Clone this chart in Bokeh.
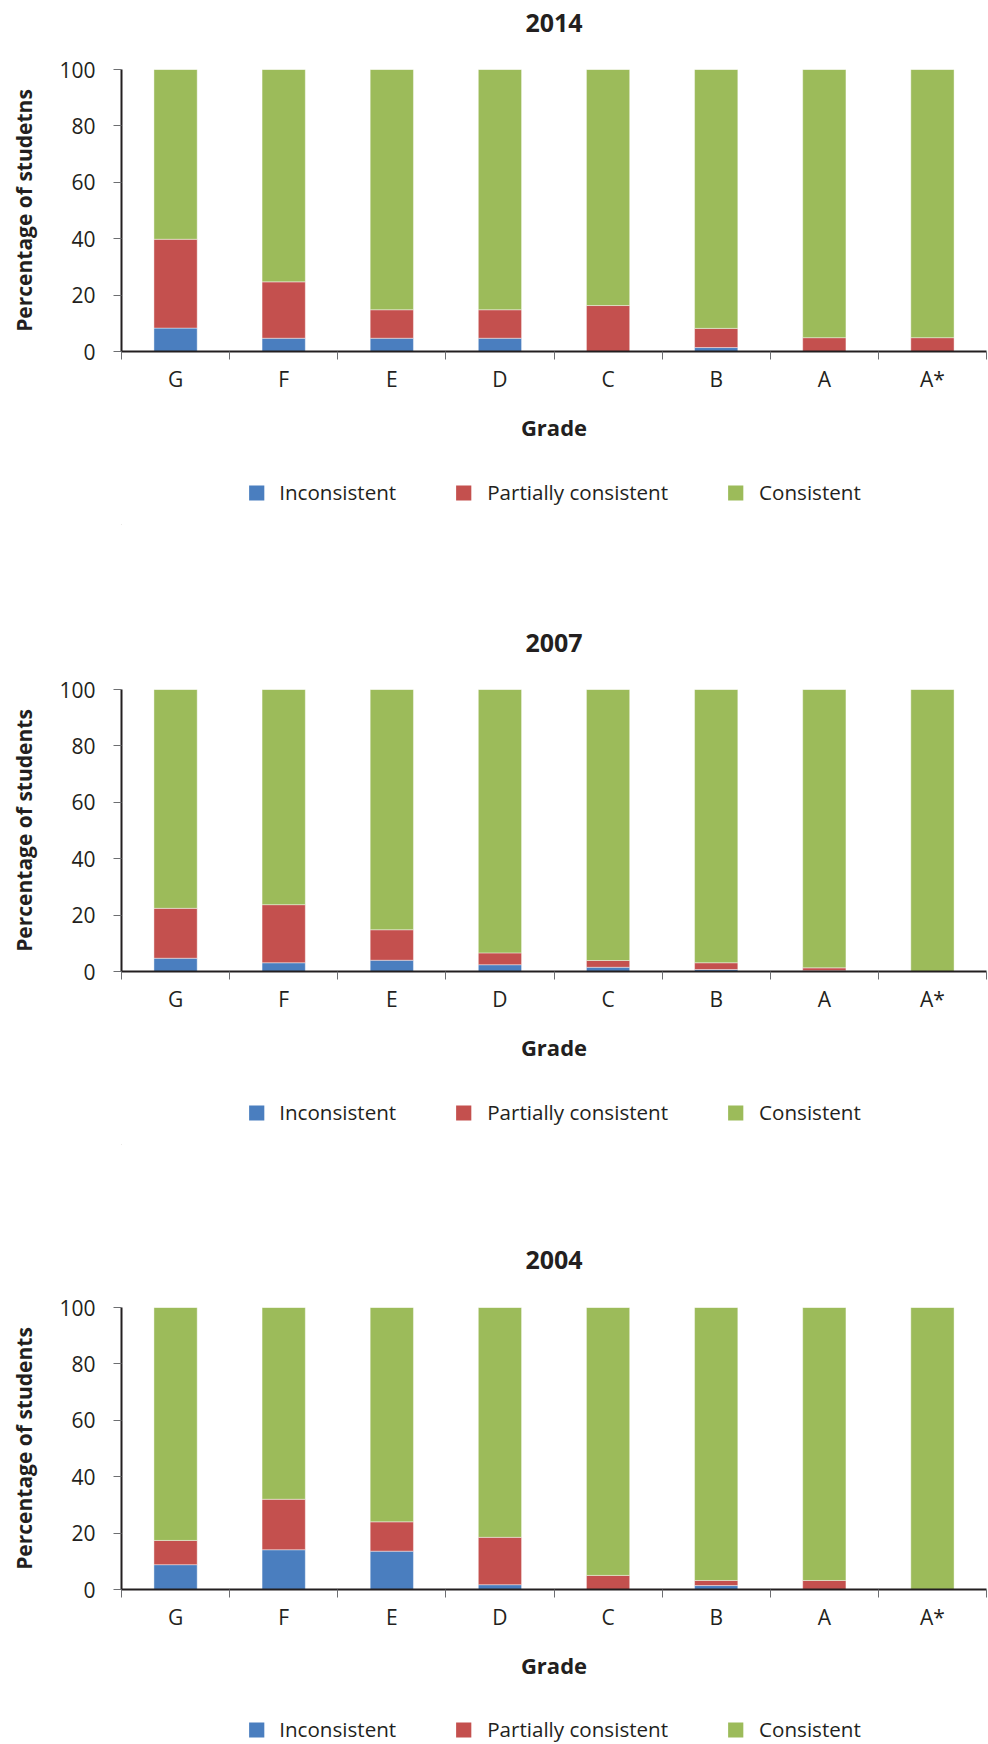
from bokeh.plotting import figure
from bokeh.models import Range1d, FixedTicker, Legend, LegendItem, ColumnDataSource
from bokeh.core.properties import value
from bokeh.layouts import column
from bokeh.embed import file_html
from bokeh.resources import INLINE

grades = ["G", "F", "E", "D", "C", "B", "A", "A*"]
series = ["Inconsistent", "Partially consistent", "Consistent"]
colors = ["#4A7EBF", "#C4504E", "#9CBB5A"]

inc_2014 = [8.3, 4.7, 4.7, 4.7, 0.0, 1.4, 0.0, 0.0]
par_2014 = [31.5, 20.0, 10.1, 10.1, 16.3, 6.8, 4.9, 4.9]
con_2014 = [60.2, 75.3, 85.2, 85.2, 83.7, 91.8, 95.1, 95.1]

inc_2007 = [4.7, 3.1, 4.0, 2.4, 1.5, 0.7, 0.3, 0.0]
par_2007 = [17.7, 20.6, 10.8, 4.2, 2.4, 2.4, 1.0, 0.0]
con_2007 = [77.6, 76.3, 85.2, 93.4, 96.1, 96.9, 98.7, 100.0]

inc_2004 = [8.8, 14.1, 13.6, 1.7, 0.0, 1.4, 0.0, 0.0]
par_2004 = [8.6, 17.9, 10.4, 16.8, 5.0, 1.8, 3.2, 0.0]
con_2004 = [82.6, 68.0, 76.0, 81.5, 95.0, 96.8, 96.8, 100.0]

y_ticks = [0, 20, 40, 60, 80, 100]

FONT = "Open Sans"
TXT = "#231F20"
TICK = "#6D6E71"
LEFT = 121
RIGHT = 2
FW = 988 - LEFT - RIGHT


def strip(frame_h, top=0, bottom=0):
    q = figure(frame_width=FW, frame_height=frame_h, x_range=Range1d(0, 1), y_range=Range1d(0, 1),
               output_backend="svg", toolbar_location=None, x_axis_type=None, y_axis_type=None,
               title=None, min_border_left=LEFT, min_border_right=RIGHT,
               min_border_top=top, min_border_bottom=bottom)
    q.outline_line_color = None
    q.xgrid.visible = False
    q.ygrid.visible = False
    return q


def title_strip(text, h):
    q = strip(h)
    q.text(x=[0.5], y=[0.5], text=[text], text_font=value(FONT), text_font_size="25px",
           text_font_style="bold", text_color=TXT, text_align="center", text_baseline="middle")
    return q


def legend_strip(frame_h, top, bottom):
    q = strip(frame_h, top, bottom)
    # legend swatch renderers, placed far outside the visible ranges
    swatches = [q.vbar(x=[-50], top=[-50], bottom=[-51], width=0.4, fill_color=c, line_color=None)
                for c in colors]
    legend = Legend(items=[LegendItem(label=s, renderers=[r]) for s, r in zip(series, swatches)],
                    orientation="horizontal", location="center",
                    glyph_width=19, glyph_height=19, label_standoff=14, spacing=58,
                    label_text_font=FONT, label_text_font_size="20.6px", label_text_color=TXT,
                    border_line_color=None, background_fill_alpha=0, margin=0, padding=0)
    q.add_layout(legend, "center")
    return q


def chart(ylabel, inc, par, con):
    n = len(grades)
    xs = [i + 0.5 for i in range(n)]
    src = ColumnDataSource(dict(x=xs, grade=grades, **{series[0]: inc, series[1]: par, series[2]: con}))
    p = figure(frame_width=FW, frame_height=282, x_range=Range1d(0, n), y_range=Range1d(0, 100),
               output_backend="svg", toolbar_location=None, title=None,
               min_border_left=LEFT, min_border_right=RIGHT, min_border_top=25, min_border_bottom=109)
    p.outline_line_color = None
    p.xgrid.visible = False
    p.ygrid.visible = False
    p.background_fill_color = "white"
    p.border_fill_color = "white"

    p.vbar_stack(series, x="x", width=0.4, color=colors, line_color="white",
                 line_width=0.6, line_alpha=0.7, source=src)

    xa = p.xaxis[0]
    xa.ticker = FixedTicker(ticks=xs, minor_ticks=list(range(n + 1)))
    xa.major_label_overrides = {x: g for x, g in zip(xs, grades)}
    xa.major_tick_out = 0
    xa.major_tick_in = 0
    xa.major_tick_line_color = None
    xa.minor_tick_out = 8
    xa.minor_tick_in = 0
    xa.minor_tick_line_color = TICK
    xa.minor_tick_line_width = 1
    xa.axis_line_width = 2
    xa.axis_line_color = TXT
    xa.major_label_text_font = FONT
    xa.major_label_text_font_size = "21px"
    xa.major_label_text_color = TXT
    xa.major_label_standoff = 5
    xa.axis_label = "Grade"
    xa.axis_label_text_font = FONT
    xa.axis_label_text_font_size = "22px"
    xa.axis_label_text_font_style = "bold"
    xa.axis_label_text_color = TXT
    xa.axis_label_standoff = 16

    ya = p.yaxis[0]
    ya.ticker = FixedTicker(ticks=y_ticks, minor_ticks=[])
    ya.major_tick_out = 8
    ya.major_tick_in = 0
    ya.major_tick_line_color = TICK
    ya.minor_tick_line_color = None
    ya.axis_line_width = 2
    ya.axis_line_color = TXT
    ya.major_label_text_font = FONT
    ya.major_label_text_font_size = "21px"
    ya.major_label_text_color = TXT
    ya.major_label_standoff = 18
    ya.axis_label = ylabel
    ya.axis_label_text_font = FONT
    ya.axis_label_text_font_size = "21px"
    ya.axis_label_text_font_style = "bold"
    ya.axis_label_text_color = TXT
    ya.axis_label_standoff = 18
    return p


t1 = title_strip("2014", 44)
p1 = chart("Percentage of studetns", inc_2014, par_2014, con_2014)
l1 = legend_strip(64, 0, 96)
t2 = title_strip("2007", 44)
p2 = chart("Percentage of students", inc_2007, par_2007, con_2007)
l2 = legend_strip(64, 0, 93)
t3 = title_strip("2004", 45)
p3 = chart("Percentage of students", inc_2004, par_2004, con_2004)
l3 = legend_strip(30, 16, 0)

layout = column(t1, p1, l1, t2, p2, l2, t3, p3, l3, spacing=0)
open("out.html", "w").write(file_html(layout, INLINE))
